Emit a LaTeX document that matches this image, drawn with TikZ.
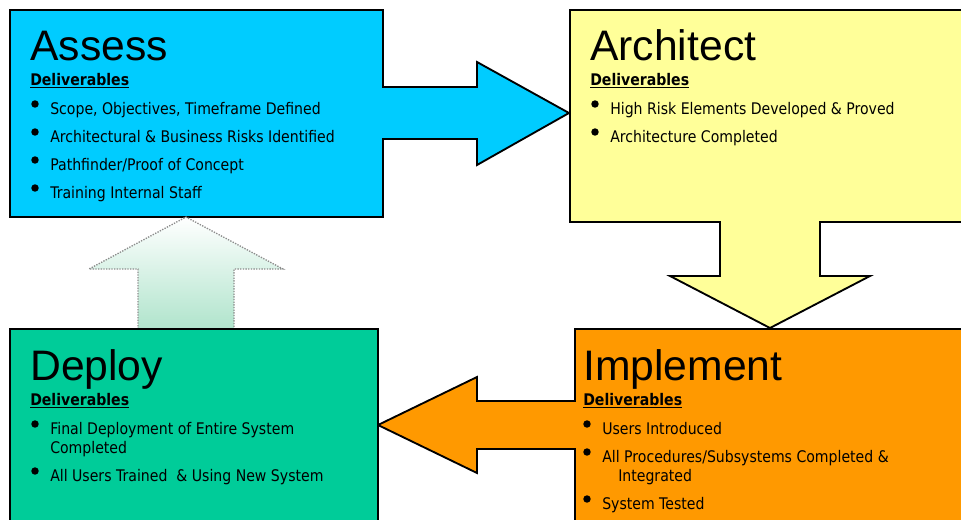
\documentclass[tikz,border=0pt]{standalone}
\usepackage{fontspec}
\setmainfont{Liberation Sans}
\newfontfamily\bodyfont[FakeStretch=0.88]{DejaVu Sans}
\definecolor{assesscol}{RGB}{0,204,255}
\definecolor{archcol}{RGB}{255,255,153}
\definecolor{implcol}{RGB}{255,153,0}
\definecolor{deploycol}{RGB}{0,204,153}
\definecolor{upcol}{RGB}{176,228,204}
\tikzset{
  phase/.style={anchor=base west, inner sep=0pt, font=\fontsize{32}{38}\selectfont},
  deliv/.style={anchor=base west, inner sep=0pt, font=\bodyfont\bfseries\fontsize{12}{14.5}\selectfont},
  item/.style={anchor=base west, inner sep=0pt, font=\bodyfont\fontsize{12}{14.5}\selectfont},
  box/.style={draw=black, line width=1.4pt, line join=miter},
}
\newcommand{\bul}[2]{\fill (#1-15, #2-10) circle (2.8pt);}

\begin{document}
\begin{tikzpicture}[x=0.75pt, y=-0.75pt]
			%%%%% START %%%%%
			\clip (0, 0) rectangle (961, 519);
			\fill[white] (0, 0) rectangle (961, 519);

			% Assess with arrow to the right
			\draw[box, fill=assesscol] (10, 10) -- (383, 10) -- (383, 87) -- (477, 87) -- (477, 62) -- (569, 113)
				-- (477, 165) -- (477, 139) -- (383, 139) -- (383, 217) -- (10, 217) -- cycle;

			% Implement with arrow to the left
			\draw[box, fill=implcol] (575, 329) -- (970, 329) -- (970, 530) -- (575, 530) -- (575, 449) -- (477, 449)
				-- (477, 473) -- (378, 425) -- (477, 377) -- (477, 401) -- (575, 401) -- cycle;

			% Architect with arrow down
			\draw[box, fill=archcol] (570, 10) -- (970, 10) -- (970, 222) -- (820, 222) -- (820, 276) -- (870, 276)
				-- (770, 328) -- (670, 276) -- (720, 276) -- (720, 222) -- (570, 222) -- cycle;

			% faded arrow up
			\shadedraw[top color=white, bottom color=upcol, draw=black!45, densely dotted, line width=1pt]
				(138, 329) -- (138, 269) -- (89, 269) -- (186, 217) -- (283, 269) -- (234, 269) -- (234, 329) -- cycle;

			% Deploy
			\draw[box, fill=deploycol] (10, 329) rectangle (378, 530);

			\node[phase] (assess) at (30, 60) {Assess};
			\node[deliv] (assess-d) at (30, 85) {\underline{Deliverables}};
			\node[item] (assess-1) at (50, 114) {Scope, Objectives, Timeframe Defined};
			\node[item] (assess-2) at (50, 142) {Architectural \& Business Risks Identified};
			\node[item] (assess-3) at (50, 170) {Pathfinder/Proof of Concept};
			\node[item] (assess-4) at (50, 198) {Training Internal Staff};
			\foreach \y in {114, 142, 170, 198} {\bul{50}{\y}}

			\node[phase] (arch) at (590, 60) {Architect};
			\node[deliv] (arch-d) at (590, 85) {\underline{Deliverables}};
			\node[item] (arch-1) at (610, 114) {High Risk Elements Developed \& Proved};
			\node[item] (arch-2) at (610, 142) {Architecture Completed};
			\foreach \y in {114, 142} {\bul{610}{\y}}

			\node[phase] (impl) at (583, 380) {Implement};
			\node[deliv] (impl-d) at (583, 405) {\underline{Deliverables}};
			\node[item] (impl-1) at (602, 434) {Users Introduced};
			\node[item] (impl-2) at (602, 462) {All Procedures/Subsystems Completed \&};
			\node[item] (impl-2b) at (618, 481) {Integrated};
			\node[item] (impl-3) at (602, 509) {System Tested};
			\foreach \y in {434, 462, 509} {\bul{602}{\y}}

			\node[phase] (deploy) at (30, 380) {Deploy};
			\node[deliv] (deploy-d) at (30, 405) {\underline{Deliverables}};
			\node[item] (deploy-1) at (50, 434) {Final Deployment of Entire System};
			\node[item] (deploy-1b) at (50, 453) {Completed};
			\node[item] (deploy-2) at (50, 481) {All Users Trained~ \& Using New System};
			\foreach \y in {434, 481} {\bul{50}{\y}}
			%%%%% END %%%%%
\end{tikzpicture}
\end{document}
